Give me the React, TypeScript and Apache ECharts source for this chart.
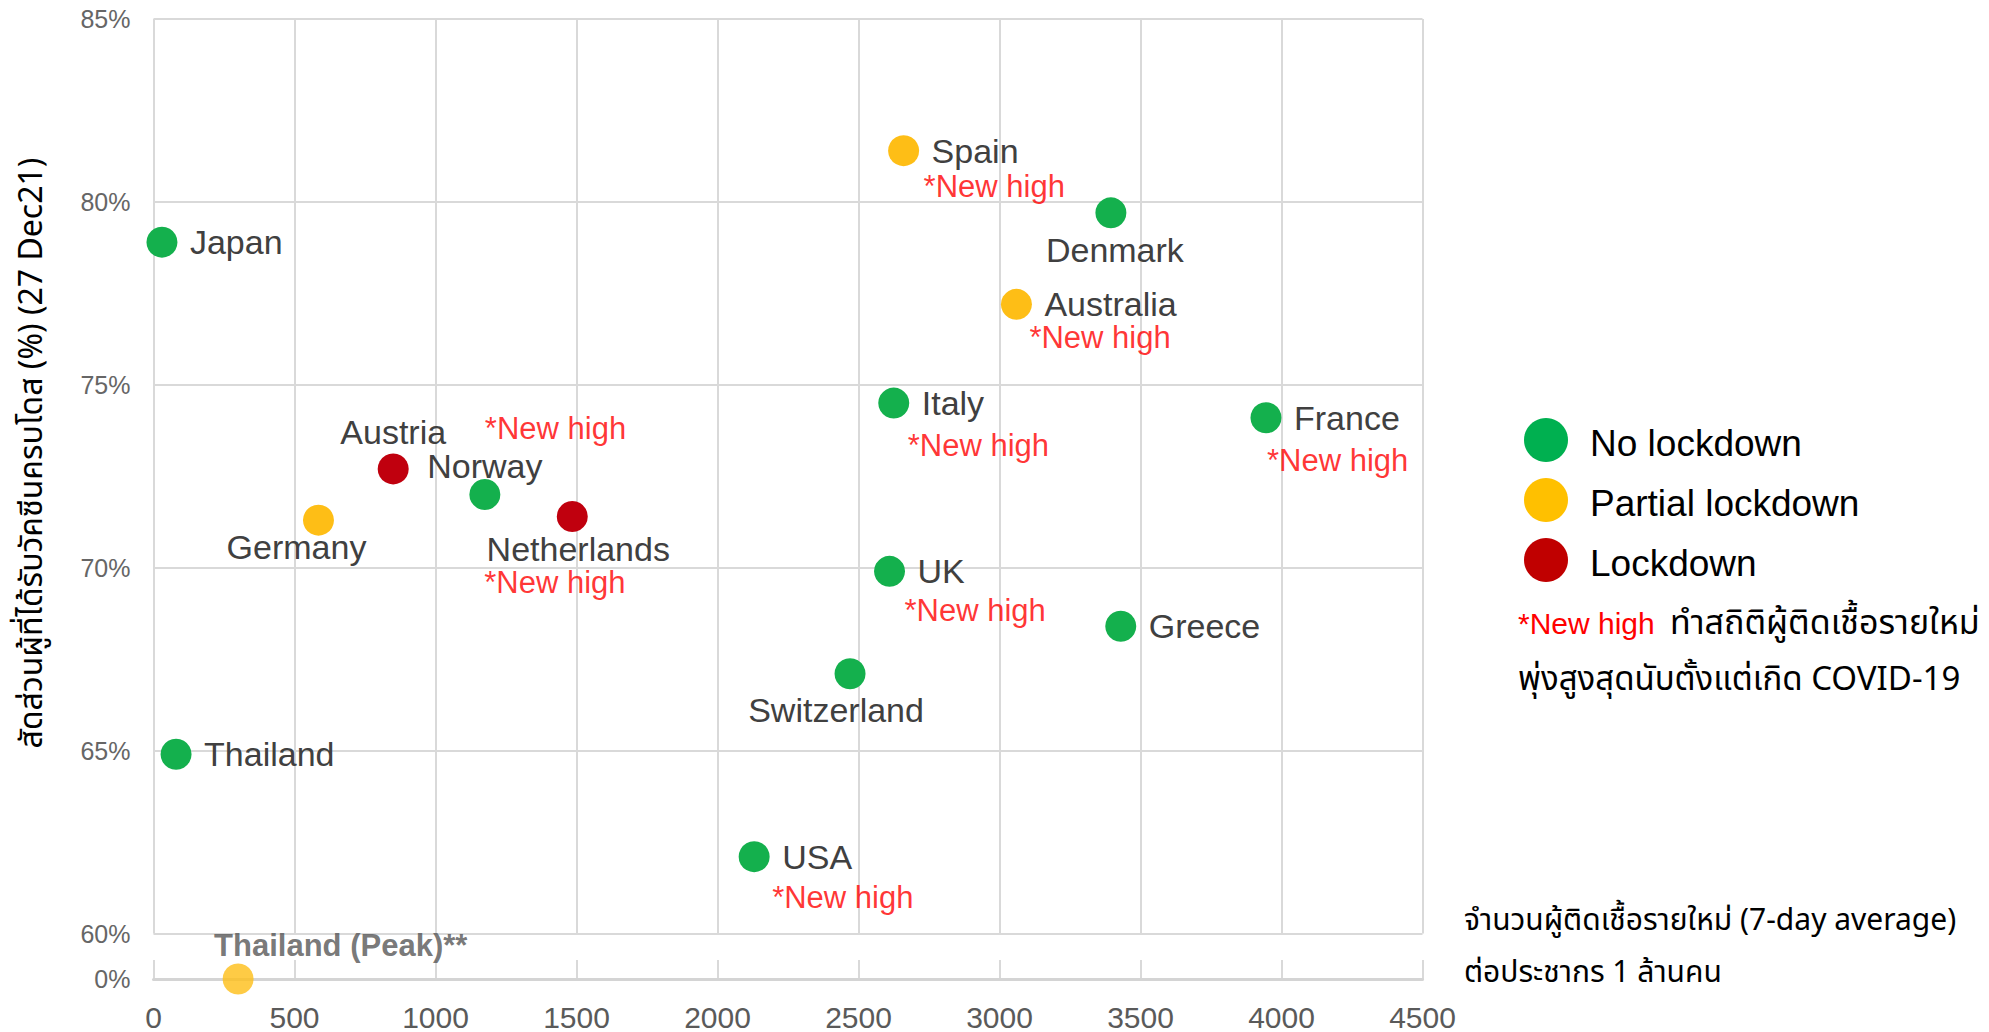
import React, { useEffect, useRef } from 'react';
import * as echarts from 'echarts';

// Countries, new cases per million (7-day average) and share fully vaccinated (%)
const countries = ['Japan', 'Thailand', 'Germany', 'Austria', 'Norway', 'Netherlands', 'Spain', 'Denmark', 'Australia', 'Italy', 'France', 'UK', 'Greece', 'Switzerland', 'USA'];
const casesPerMillion = [30, 80, 585, 850, 1175, 1485, 2660, 3395, 3060, 2625, 3945, 2610, 3430, 2470, 2130];
const fullyVaccinated = [78.9, 64.9, 71.3, 72.7, 72.0, 71.4, 81.4, 79.7, 77.2, 74.5, 74.1, 69.9, 68.4, 67.1, 62.1];
const restriction = ['none', 'none', 'partial', 'full', 'none', 'full', 'partial', 'none', 'partial', 'none', 'none', 'none', 'none', 'none', 'none'];
const newHigh = [false, false, false, false, true, true, true, false, true, true, true, true, false, false, true];

// Thailand at its peak, drawn on the lower (0%) strip
const peakNames = ['Thailand (Peak)**'];
const peakCases = [300];
const peakVaccinated = [0];

const xTickValues = [0, 500, 1000, 1500, 2000, 2500, 3000, 3500, 4000, 4500];
const yTickValues = [60, 65, 70, 75, 80, 85];

const groupKeys = ['none', 'partial', 'full'];
const groupNames = ['No lockdown', 'Partial lockdown', 'Lockdown'];
const markerColors = ['#14B04D', '#FEBE16', '#C0000E'];
const legendColors = ['#00B050', '#FFC000', '#C00000'];

const NEW_HIGH_TEXT = '*New high';

// label layout around each marker (pixels from marker centre)
const labelPlace: Record<string, { align: string; dx: number; dy: number }> = {
  Germany: { align: 'center', dx: -22, dy: 27 },
  Austria: { align: 'center', dx: 0, dy: -37 },
  Norway: { align: 'center', dx: 0, dy: -29 },
  Netherlands: { align: 'center', dx: 6, dy: 33 },
  Denmark: { align: 'center', dx: 4, dy: 37 },
  Switzerland: { align: 'center', dx: -14, dy: 36 },
};
const defaultPlace = { align: 'left', dx: 28, dy: 0 };
const newHighPlace: Record<string, [number, number]> = {
  Norway: [0, -66],
  Netherlands: [-88, 66],
  Spain: [20, 36],
  Australia: [13, 33],
  Italy: [14, 42],
  France: [1, 43],
  UK: [15, 39],
  USA: [18, 41],
};

const SANS = "'Liberation Sans', Arial, sans-serif";
const THAI = "Tahoma, 'Noto Sans Thai', 'Noto Sans Thai Looped', Loma, Garuda, 'Liberation Sans', sans-serif";

const PLOT_LEFT = 153.5;
const PLOT_WIDTH = 1269;

function buildOption() {
  const xMin = xTickValues[0];
  const xMax = xTickValues[xTickValues.length - 1];
  const xStep = xTickValues[1] - xTickValues[0];
  const yMin = yTickValues[0];
  const yMax = yTickValues[yTickValues.length - 1];
  const yStep = yTickValues[1] - yTickValues[0];

  const gridLine = { show: true, lineStyle: { color: '#d9d9d9', width: 2 } };

  const groupSeries = groupKeys.map((key, gi) => ({
    name: groupNames[gi],
    type: 'scatter',
    xAxisIndex: 0,
    yAxisIndex: 0,
    symbol: 'circle',
    symbolSize: 31,
    itemStyle: { color: markerColors[gi], opacity: 1 },
    z: 3,
    data: countries
      .map((name, i) => ({ name, i }))
      .filter((d) => restriction[d.i] === key)
      .map(({ name, i }) => {
        const p = labelPlace[name] || defaultPlace;
        return {
          name,
          value: [casesPerMillion[i], fullyVaccinated[i]],
          label: {
            show: true,
            position: 'inside',
            align: p.align,
            verticalAlign: 'middle',
            offset: [p.dx, p.dy],
            formatter: name,
            color: '#404040',
            fontSize: 34,
            fontFamily: SANS,
          },
        };
      }),
  }));

  const newHighSeries = {
    name: 'newHigh',
    type: 'scatter',
    xAxisIndex: 0,
    yAxisIndex: 0,
    symbol: 'circle',
    symbolSize: 1,
    silent: true,
    itemStyle: { color: 'rgba(0,0,0,0)' },
    z: 4,
    data: countries
      .map((name, i) => ({ name, i }))
      .filter((d) => newHigh[d.i])
      .map(({ name, i }) => {
        const off = newHighPlace[name] || [15, 40];
        return {
          name,
          value: [casesPerMillion[i], fullyVaccinated[i]],
          label: {
            show: true,
            position: 'inside',
            align: 'left',
            verticalAlign: 'middle',
            offset: off,
            formatter: NEW_HIGH_TEXT,
            color: '#FF0000',
            fontSize: 31,
            fontFamily: SANS,
          },
        };
      }),
  };

  const peakSeries = {
    name: 'peak',
    type: 'scatter',
    xAxisIndex: 1,
    yAxisIndex: 1,
    symbol: 'circle',
    symbolSize: 31,
    itemStyle: { color: markerColors[1] },
    z: 3,
    data: peakNames.map((name, i) => ({
      name,
      value: [peakCases[i], peakVaccinated[i]],
      label: {
        show: true,
        position: 'inside',
        align: 'left',
        verticalAlign: 'middle',
        offset: [-24, -34],
        formatter: name,
        color: '#555555',
        fontWeight: 'bold',
        fontSize: 31,
        fontFamily: SANS,
      },
    })),
  };

  const legendItems: any[] = [];
  groupNames.forEach((name, gi) => {
    const cy = 440 + gi * 60;
    legendItems.push({
      type: 'circle',
      shape: { cx: 1546, cy, r: 22 },
      style: { fill: legendColors[gi] },
    });
    legendItems.push({
      type: 'text',
      x: 1590,
      y: cy + 3,
      style: {
        text: name,
        fill: '#000',
        fontSize: 37,
        fontFamily: SANS,
        textAlign: 'left',
        align: 'left',
        textVerticalAlign: 'middle',
        verticalAlign: 'middle',
      },
    });
  });

  const textEl = (text: string, x: number, y: number, size: number, fill: string, family: string, extra: any = {}) => ({
    type: 'text',
    x,
    y,
    ...extra,
    style: {
      text,
      fill,
      fontSize: size,
      fontFamily: family,
      textAlign: extra.align || 'left',
      align: extra.align || 'left',
      textVerticalAlign: 'middle',
      verticalAlign: 'middle',
    },
  });

  const graphics = [
    ...legendItems,
    textEl(NEW_HIGH_TEXT, 1518, 623, 30, '#FF0000', SANS),
    textEl('ทำสถิติผู้ติดเชื้อรายใหม่', 1670, 623, 34, '#000', THAI),
    textEl('พุ่งสูงสุดนับตั้งแต่เกิด COVID-19', 1518, 680, 33, '#000', THAI),
    textEl('จำนวนผู้ติดเชื้อรายใหม่ (7-day average)', 1464, 921, 30, '#000', THAI),
    textEl('ต่อประชากร 1 ล้านคน', 1464, 973, 30, '#000', THAI),
    {
      type: 'text',
      x: 32,
      y: 453,
      rotation: Math.PI / 2,
      style: {
        text: 'สัดส่วนผู้ที่ได้รับวัคซีนครบโดส (%) (27 Dec21)',
        fill: '#000',
        fontSize: 32,
        fontFamily: THAI,
        textAlign: 'center',
        align: 'center',
        textVerticalAlign: 'middle',
        verticalAlign: 'middle',
      },
    },
  ];

  return {
    animation: false,
    backgroundColor: '#ffffff',
    grid: [
      { left: PLOT_LEFT, width: PLOT_WIDTH, top: 19, height: 914.5 },
      { left: PLOT_LEFT, width: PLOT_WIDTH, top: 960, height: 19 },
    ],
    xAxis: [
      {
        gridIndex: 0,
        type: 'value',
        min: xMin,
        max: xMax,
        interval: xStep,
        axisLine: { show: false },
        axisTick: { show: false },
        axisLabel: { show: false },
        splitLine: gridLine,
      },
      {
        gridIndex: 1,
        type: 'value',
        min: xMin,
        max: xMax,
        interval: xStep,
        axisLine: { show: true, onZero: false, lineStyle: { color: '#d4d4d4', width: 3 } },
        axisTick: { show: false },
        axisLabel: {
          show: true,
          margin: 23,
          color: '#5a5a5a',
          fontSize: 30,
          fontFamily: SANS,
          formatter: (v: number) => String(v),
        },
        splitLine: gridLine,
      },
    ],
    yAxis: [
      {
        gridIndex: 0,
        type: 'value',
        min: yMin,
        max: yMax,
        interval: yStep,
        axisLine: { show: false },
        axisTick: { show: false },
        axisLabel: {
          margin: 23,
          color: '#666666',
          fontSize: 25,
          fontFamily: SANS,
          formatter: '{value}%',
        },
        splitLine: gridLine,
      },
      {
        gridIndex: 1,
        type: 'value',
        min: 0,
        max: 1,
        interval: 1,
        axisLine: { show: false },
        axisTick: { show: false },
        axisLabel: {
          margin: 23,
          color: '#666666',
          fontSize: 25,
          fontFamily: SANS,
          formatter: (v: number) => (v === 0 ? '0%' : ''),
        },
        splitLine: { show: false },
      },
    ],
    series: [...groupSeries, newHighSeries, peakSeries],
    graphic: graphics,
  };
}

export default function App() {
  const ref = useRef<HTMLDivElement>(null);
  useEffect(() => {
    if (!ref.current) return;
    const chart = echarts.init(ref.current, undefined, { renderer: 'svg' });
    chart.setOption(buildOption() as any);
    return () => chart.dispose();
  }, []);
  return (
    <div
      ref={ref}
      style={{ position: 'absolute', left: 0, top: 0, width: 1989, height: 1032, background: '#fff' }}
    />
  );
}
